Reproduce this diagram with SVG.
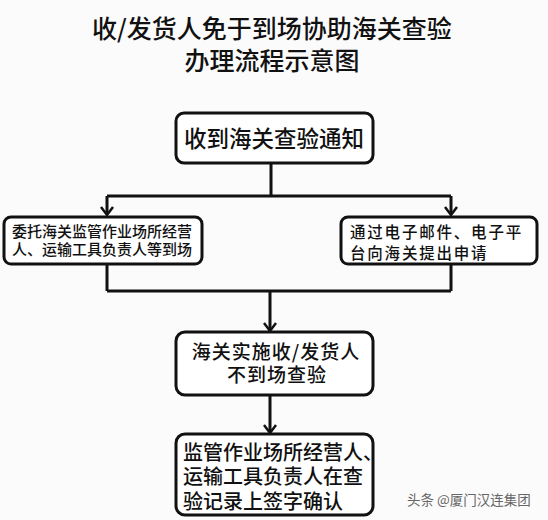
<svg xmlns="http://www.w3.org/2000/svg" width="548" height="520" viewBox="0 0 548 520">
<defs>
<style>
.t{font-family:"Noto Sans CJK SC","Noto Sans",sans-serif;fill:#111;font-weight:500}
.box{fill:#fff;stroke:#111;stroke-width:3}
.ln{fill:none;stroke:#111;stroke-width:3}
.ah{fill:none;stroke:#111;stroke-width:2.5;stroke-linejoin:miter}
</style>
</defs>
<rect width="548" height="520" fill="#fcfbfc"/>
<g id="title">
<text class="t" x="272" y="38" font-size="25" text-anchor="middle">收/发货人免于到场协助海关查验</text>
<text class="t" x="272" y="70" font-size="25" text-anchor="middle">办理流程示意图</text>
</g>
<g id="connectors">
<path class="ln" d="M271,163 V196 M107,196 H451 M107,196 V214 M451,196 V214"/>
<path class="ln" d="M107,264 V291 M451,264 V291 M107,291 H451 M270,291 V330"/>
<path class="ln" d="M270,395 V432"/>
<path class="ah" d="M101,207 L107,215 L113,207 M445,207 L451,215 L457,207 M264,323 L270,331 L276,323 M264,425 L270,433 L276,425"/>
</g>
<g id="n1">
<rect class="box" x="176" y="113" width="197" height="50" rx="8"/>
<text class="t" x="274" y="147" font-size="22.5" text-anchor="middle">收到海关查验通知</text>
</g>
<g id="n2">
<rect class="box" x="4" y="217" width="198" height="47" rx="7"/>
<text class="t" x="12" y="237" font-size="15">委托海关监管作业场所经营</text>
<text class="t" x="12" y="255" font-size="15">人、运输工具负责人等到场</text>
</g>
<g id="n3">
<rect class="box" x="341" y="217" width="196" height="47" rx="7"/>
<text class="t" x="350" y="238" font-size="15.5" letter-spacing="1.8">通过电子邮件、电子平</text>
<text class="t" x="350" y="259" font-size="15.5" letter-spacing="1.8">台向海关提出申请</text>
</g>
<g id="n4">
<rect class="box" x="176" y="332" width="197" height="63" rx="9"/>
<text class="t" x="276" y="359" font-size="19" letter-spacing="1" text-anchor="middle">海关实施收/发货人</text>
<text class="t" x="277" y="382" font-size="19" letter-spacing="1" text-anchor="middle">不到场查验</text>
</g>
<g id="n5">
<rect class="box" x="176" y="434" width="197" height="81" rx="9"/>
<text class="t" x="183" y="460" font-size="20">监管作业场所经营人、</text>
<text class="t" x="183" y="484" font-size="20">运输工具负责人在查</text>
<text class="t" x="183" y="509" font-size="20">验记录上签字确认</text>
</g>
<text x="407" y="505" font-size="13.5" font-family="'Noto Sans CJK SC',sans-serif" fill="#666">头条 @厦门汉连集团</text>
</svg>
